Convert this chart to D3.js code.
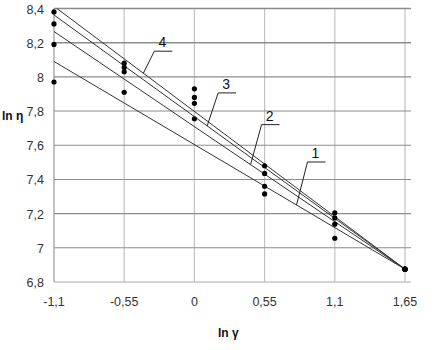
<!DOCTYPE html>
<html>
<head>
<meta charset="utf-8">
<script src="https://cdn.jsdelivr.net/npm/d3@7"></script>
<style>
    body { margin: 0; background: #fff; }
    svg text { font-family: "Liberation Sans Narrow", "Liberation Sans", Arial, sans-serif; }
    .tick-label { font-size: 12.5px; fill: #333; }
    .axisLabel { font-size: 12px; fill: #111; font-weight: bold; }
    .line-label { font-size: 14px; fill: #111; }
</style>
</head>
<body>
<svg id="chart"></svg>
<script>
// ln(gamma) positions of measurements and tick labels
const xTicks = [-1.1, -0.55, 0, 0.55, 1.1, 1.65];
const yTicks = [6.8, 7, 7.2, 7.4, 7.6, 7.8, 8, 8.2, 8.4];

// measured points, one array per x position (ln eta)
const pointX = [-1.1, -0.55, 0, 0.55, 1.1, 1.65];
const pointsByX = [
    [8.38, 8.31, 8.19, 7.97],
    [8.08, 8.055, 8.03, 7.91],
    [7.93, 7.88, 7.845, 7.755],
    [7.48, 7.435, 7.36, 7.315],
    [7.205, 7.175, 7.138, 7.056],
    [6.875, 6.875, 6.875, 6.875]
];

// fitted lines: [ln eta at x = -1.1, ln eta at x = 1.65]
const lineNames = ['1', '2', '3', '4'];
const lineStart = [8.09, 8.265, 8.362, 8.413];
const lineEnd = [6.875, 6.875, 6.875, 6.875];
// x where each label's leader touches its line
const leaderX = [0.80, 0.44, 0.10, -0.40];

const fmt = d => String(d).replace('.', ',');

const width = 440, height = 350;
const margin = { top: 8.5, left: 54 };
const plotW = 351, plotH = 273.5;

const svg = d3.select('#chart')
    .attr('width', width)
    .attr('height', height);

const chart = svg.append('g')
    .attr('transform', `translate(${margin.left},${margin.top})`);

const xScale = d3.scaleLinear().domain([-1.1, 1.65]).range([0, plotW]);
const yScale = d3.scaleLinear().domain([6.8, 8.4]).range([plotH, 0]);

// vertical grid
chart.selectAll('.vgrid')
    .data(xTicks)
    .join('line')
    .attr('class', 'vgrid')
    .attr('x1', d => xScale(d)).attr('x2', d => xScale(d))
    .attr('y1', 0).attr('y2', plotH)
    .attr('stroke', d => d === -1.1 ? '#999' : '#c2c2c2')
    .attr('stroke-width', 1.2);

// horizontal grid
chart.selectAll('.hgrid')
    .data(yTicks)
    .join('line')
    .attr('class', 'hgrid')
    .attr('x1', 0).attr('x2', plotW + 6)
    .attr('y1', d => yScale(d)).attr('y2', d => yScale(d))
    .attr('stroke', d => d === 6.8 ? '#aaa' : '#8c8c8c')
    .attr('stroke-width', d => (d === 8.4 || d === 8.2) ? 1.6 : 1.1);

// tick labels
chart.selectAll('.ylab')
    .data(yTicks)
    .join('text')
    .attr('class', 'tick-label')
    .attr('x', -10)
    .attr('y', d => yScale(d) + 5)
    .attr('text-anchor', 'end')
    .text(fmt);

chart.selectAll('.xlab')
    .data(xTicks)
    .join('text')
    .attr('class', 'tick-label')
    .attr('x', d => xScale(d))
    .attr('y', plotH + 24)
    .attr('text-anchor', 'middle')
    .text(fmt);

// axis labels
svg.append('text')
    .attr('class', 'axisLabel')
    .attr('x', 2).attr('y', 120)
    .text('ln η');

svg.append('text')
    .attr('class', 'axisLabel')
    .attr('x', 218).attr('y', 337)
    .text('ln γ');

// clip for lines
svg.append('defs').append('clipPath')
    .attr('id', 'plot-clip')
    .append('rect')
    .attr('x', 0).attr('y', 0)
    .attr('width', plotW + 2).attr('height', plotH);

// leader rise (px) above the line for labels 1..4
const leaderRise = [43, 40, 33, 22];

const lineData = lineNames.map((name, i) => ({
    name: name,
    pts: [[-1.1, lineStart[i]], [1.65, lineEnd[i]]],
    leader: leaderX[i],
    rise: leaderRise[i]
}));

const line = d3.line()
    .x(d => xScale(d[0]))
    .y(d => yScale(d[1]));

chart.append('g')
    .attr('clip-path', 'url(#plot-clip)')
    .selectAll('path')
    .data(lineData)
    .join('path')
    .attr('d', d => line(d.pts))
    .attr('fill', 'none')
    .attr('stroke', '#333')
    .attr('stroke-width', 1);

// points
const points = [];
pointX.forEach((x, i) => pointsByX[i].forEach(y => points.push([x, y])));

chart.selectAll('.dot')
    .data(points)
    .join('circle')
    .attr('class', 'dot')
    .attr('cx', d => xScale(d[0]))
    .attr('cy', d => yScale(d[1]))
    .attr('r', 2.6)
    .attr('fill', '#000');

// labels with leaders
const valueAt = (d, x) => {
    const t = (x - d.pts[0][0]) / (d.pts[1][0] - d.pts[0][0]);
    return d.pts[0][1] + t * (d.pts[1][1] - d.pts[0][1]);
};

const labels = chart.selectAll('.lineLabel')
    .data(lineData)
    .join('g')
    .attr('class', 'lineLabel')
    .attr('transform', d => {
        const px = xScale(d.leader), py = yScale(valueAt(d, d.leader));
        return `translate(${px},${py})`;
    });

labels.append('path')
    .attr('d', d => `M0,0 L11,${-d.rise} L29,${-d.rise}`)
    .attr('fill', 'none')
    .attr('stroke', '#222')
    .attr('stroke-width', 1);

labels.append('text')
    .attr('class', 'line-label')
    .attr('x', 19)
    .attr('y', d => -d.rise - 4)
    .attr('text-anchor', 'middle')
    .text(d => d.name);
</script>
</body>
</html>
